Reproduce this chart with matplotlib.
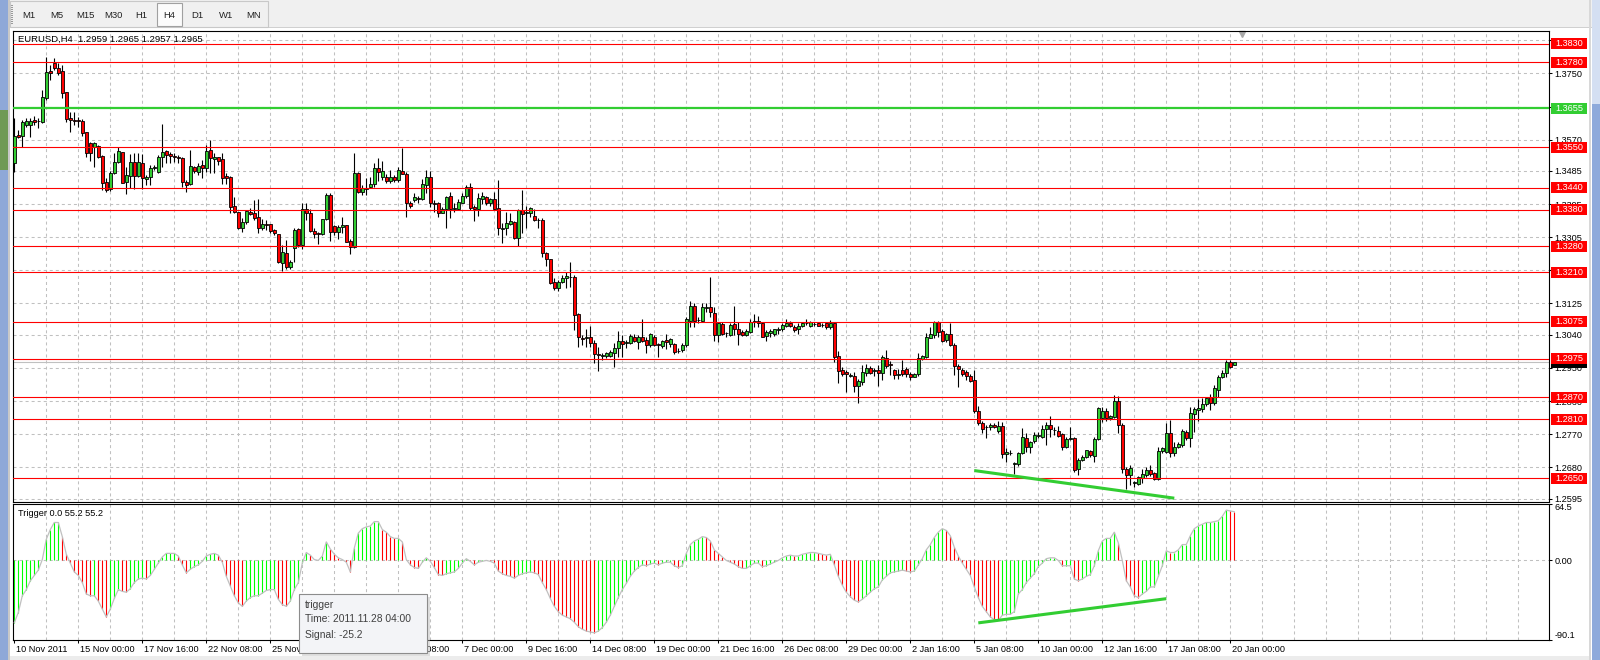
import matplotlib
matplotlib.use('Agg')
import matplotlib.pyplot as plt
import matplotlib.transforms as mtransforms
from matplotlib.patches import Rectangle
import numpy as np

plt.rcParams['font.family'] = ['Liberation Sans', 'DejaVu Sans']
plt.rcParams['font.size'] = 6.6

# EURUSD H4 candles, bar 0 = 10 Nov 2011 08:00 ... bar 305 = 20 Jan 2012
opens = [
    1.3506, 1.3582, 1.3580, 1.3610, 1.3610, 1.3624, 1.3621, 1.3619, 1.3683, 1.3757,
    1.3779, 1.3765, 1.3757, 1.3700, 1.3628, 1.3624, 1.3624, 1.3622, 1.3590, 1.3560,
    1.3551, 1.3553, 1.3526, 1.3455, 1.3435, 1.3480, 1.3509, 1.3536, 1.3456, 1.3472,
    1.3509, 1.3472, 1.3506, 1.3462, 1.3469, 1.3492, 1.3483, 1.3524, 1.3539, 1.3531,
    1.3526, 1.3522, 1.3519, 1.3456, 1.3450, 1.3495, 1.3483, 1.3501, 1.3492, 1.3541,
    1.3517, 1.3522, 1.3517, 1.3471, 1.3469, 1.3390, 1.3373, 1.3330, 1.3346, 1.3373,
    1.3370, 1.3359, 1.3330, 1.3340, 1.3340, 1.3324, 1.3313, 1.3236, 1.3261, 1.3225,
    1.3275, 1.3327, 1.3284, 1.3381, 1.3370, 1.3322, 1.3316, 1.3313, 1.3354, 1.3419,
    1.3335, 1.3320, 1.3334, 1.3338, 1.3296, 1.3278, 1.3479, 1.3429, 1.3436, 1.3441,
    1.3450, 1.3492, 1.3468, 1.3468, 1.3458, 1.3469, 1.3460, 1.3485, 1.3477, 1.3397,
    1.3406, 1.3411, 1.3408, 1.3447, 1.3468, 1.3397, 1.3397, 1.3371, 1.3382, 1.3417,
    1.3381, 1.3382, 1.3399, 1.3417, 1.3442, 1.3388, 1.3381, 1.3408, 1.3415, 1.3399,
    1.3408, 1.3385, 1.3327, 1.3329, 1.3341, 1.3347, 1.3304, 1.3379, 1.3371, 1.3371,
    1.3363, 1.3351, 1.3352, 1.3263, 1.3245, 1.3184, 1.3166, 1.3184, 1.3193, 1.3197,
    1.3196, 1.3096, 1.3030, 1.3030, 1.3033, 1.3018, 1.2988, 1.2983, 1.2982, 1.2982,
    1.2991, 1.3005, 1.3023, 1.3018, 1.3018, 1.3033, 1.3021, 1.3033, 1.3026, 1.3011,
    1.3035, 1.3014, 1.3010, 1.3026, 1.3014, 1.3016, 1.2996, 1.2999, 1.3012, 1.3078,
    1.3118, 1.3080, 1.3078, 1.3113, 1.3116, 1.3100, 1.3039, 1.3069, 1.3044, 1.3039,
    1.3069, 1.3057, 1.3048, 1.3039, 1.3048, 1.3075, 1.3078, 1.3072, 1.3037, 1.3044,
    1.3042, 1.3054, 1.3055, 1.3065, 1.3072, 1.3061, 1.3055, 1.3063, 1.3071, 1.3065,
    1.3069, 1.3071, 1.3067, 1.3071, 1.3060, 1.3071, 1.2982, 1.2944, 1.2939, 1.2929,
    1.2928, 1.2901, 1.2913, 1.2935, 1.2949, 1.2941, 1.2944, 1.2935, 1.2976, 1.2960,
    1.2944, 1.2931, 1.2944, 1.2946, 1.2933, 1.2926, 1.2933, 1.2973, 1.2980, 1.3032,
    1.3039, 1.3074, 1.3051, 1.3026, 1.3042, 1.3012, 1.2955, 1.2944, 1.2938, 1.2928,
    1.2917, 1.2834, 1.2801, 1.2789, 1.2789, 1.2795, 1.2779, 1.2792, 1.2715, 1.2720,
    1.2690, 1.2689, 1.2718, 1.2760, 1.2736, 1.2752, 1.2765, 1.2763, 1.2783, 1.2795,
    1.2780, 1.2779, 1.2770, 1.2736, 1.2758, 1.2759, 1.2674, 1.2701, 1.2707, 1.2725,
    1.2711, 1.2757, 1.2813, 1.2834, 1.2813, 1.2817, 1.2860, 1.2795, 1.2674, 1.2659,
    1.2638, 1.2634, 1.2650, 1.2659, 1.2672, 1.2665, 1.2647, 1.2725, 1.2722, 1.2774,
    1.2718, 1.2734, 1.2740, 1.2777, 1.2759, 1.2825, 1.2836, 1.2838, 1.2852, 1.2870,
    1.2855, 1.2890, 1.2924, 1.2937, 1.2967, 1.2959]

highs = [
    1.3630, 1.3596, 1.3624, 1.3628, 1.3628, 1.3634, 1.3628, 1.3705, 1.3796, 1.3773,
    1.3791, 1.3778, 1.3773, 1.3700, 1.3646, 1.3646, 1.3631, 1.3625, 1.3592, 1.3565,
    1.3563, 1.3556, 1.3528, 1.3465, 1.3484, 1.3533, 1.3551, 1.3537, 1.3497, 1.3531,
    1.3535, 1.3533, 1.3531, 1.3474, 1.3501, 1.3501, 1.3528, 1.3612, 1.3542, 1.3537,
    1.3535, 1.3528, 1.3522, 1.3460, 1.3542, 1.3499, 1.3506, 1.3515, 1.3556, 1.3569,
    1.3533, 1.3524, 1.3533, 1.3480, 1.3471, 1.3414, 1.3373, 1.3358, 1.3379, 1.3384,
    1.3406, 1.3410, 1.3354, 1.3352, 1.3340, 1.3327, 1.3313, 1.3284, 1.3297, 1.3243,
    1.3329, 1.3329, 1.3397, 1.3397, 1.3381, 1.3329, 1.3320, 1.3354, 1.3426, 1.3426,
    1.3338, 1.3338, 1.3361, 1.3338, 1.3301, 1.3533, 1.3483, 1.3447, 1.3465, 1.3469,
    1.3507, 1.3519, 1.3513, 1.3477, 1.3488, 1.3474, 1.3495, 1.3547, 1.3483, 1.3403,
    1.3424, 1.3417, 1.3462, 1.3488, 1.3485, 1.3406, 1.3401, 1.3388, 1.3417, 1.3428,
    1.3399, 1.3408, 1.3424, 1.3447, 1.3453, 1.3392, 1.3426, 1.3428, 1.3417, 1.3411,
    1.3429, 1.3460, 1.3343, 1.3374, 1.3370, 1.3349, 1.3381, 1.3433, 1.3390, 1.3388,
    1.3381, 1.3356, 1.3356, 1.3266, 1.3247, 1.3193, 1.3189, 1.3202, 1.3211, 1.3238,
    1.3202, 1.3098, 1.3039, 1.3055, 1.3064, 1.3026, 1.3007, 1.2991, 1.2994, 1.2999,
    1.3018, 1.3051, 1.3039, 1.3026, 1.3043, 1.3042, 1.3039, 1.3082, 1.3035, 1.3045,
    1.3039, 1.3017, 1.3027, 1.3042, 1.3030, 1.3018, 1.3003, 1.3017, 1.3089, 1.3132,
    1.3127, 1.3089, 1.3125, 1.3125, 1.3198, 1.3116, 1.3075, 1.3075, 1.3048, 1.3071,
    1.3118, 1.3075, 1.3053, 1.3055, 1.3082, 1.3096, 1.3091, 1.3075, 1.3053, 1.3055,
    1.3057, 1.3062, 1.3071, 1.3082, 1.3078, 1.3066, 1.3071, 1.3075, 1.3082, 1.3078,
    1.3075, 1.3074, 1.3072, 1.3072, 1.3080, 1.3072, 1.2996, 1.2953, 1.2944, 1.2935,
    1.2939, 1.2919, 1.2958, 1.2960, 1.2955, 1.2949, 1.2958, 1.2984, 1.2999, 1.2969,
    1.2948, 1.2946, 1.2971, 1.2952, 1.2939, 1.2937, 1.2990, 1.2985, 1.3044, 1.3060,
    1.3078, 1.3078, 1.3055, 1.3045, 1.3072, 1.3017, 1.2960, 1.2949, 1.2944, 1.2933,
    1.2944, 1.2847, 1.2807, 1.2795, 1.2799, 1.2799, 1.2807, 1.2804, 1.2731, 1.2727,
    1.2695, 1.2722, 1.2786, 1.2772, 1.2752, 1.2777, 1.2777, 1.2795, 1.2804, 1.2819,
    1.2790, 1.2792, 1.2774, 1.2763, 1.2790, 1.2763, 1.2704, 1.2713, 1.2728, 1.2728,
    1.2763, 1.2844, 1.2843, 1.2840, 1.2822, 1.2876, 1.2874, 1.2799, 1.2681, 1.2686,
    1.2643, 1.2656, 1.2674, 1.2681, 1.2686, 1.2668, 1.2736, 1.2736, 1.2799, 1.2808,
    1.2749, 1.2749, 1.2783, 1.2781, 1.2844, 1.2844, 1.2865, 1.2867, 1.2870, 1.2880,
    1.2903, 1.2930, 1.2944, 1.2971, 1.2971, 1.2965]

lows = [
    1.3483, 1.3574, 1.3551, 1.3605, 1.3577, 1.3610, 1.3601, 1.3615, 1.3678, 1.3732,
    1.3759, 1.3746, 1.3683, 1.3619, 1.3591, 1.3610, 1.3605, 1.3580, 1.3524, 1.3513,
    1.3497, 1.3519, 1.3433, 1.3429, 1.3431, 1.3478, 1.3506, 1.3451, 1.3422, 1.3438,
    1.3435, 1.3469, 1.3435, 1.3447, 1.3447, 1.3488, 1.3480, 1.3497, 1.3507, 1.3506,
    1.3510, 1.3506, 1.3442, 1.3429, 1.3447, 1.3480, 1.3474, 1.3467, 1.3483, 1.3480,
    1.3480, 1.3501, 1.3450, 1.3450, 1.3371, 1.3370, 1.3326, 1.3319, 1.3341, 1.3365,
    1.3352, 1.3316, 1.3325, 1.3325, 1.3317, 1.3311, 1.3234, 1.3213, 1.3220, 1.3220,
    1.3237, 1.3279, 1.3272, 1.3352, 1.3320, 1.3302, 1.3286, 1.3311, 1.3352, 1.3295,
    1.3311, 1.3299, 1.3316, 1.3293, 1.3259, 1.3275, 1.3424, 1.3420, 1.3420, 1.3438,
    1.3442, 1.3458, 1.3460, 1.3453, 1.3451, 1.3456, 1.3456, 1.3477, 1.3361, 1.3384,
    1.3401, 1.3397, 1.3406, 1.3424, 1.3388, 1.3374, 1.3360, 1.3370, 1.3329, 1.3356,
    1.3374, 1.3379, 1.3397, 1.3411, 1.3379, 1.3349, 1.3363, 1.3395, 1.3392, 1.3390,
    1.3379, 1.3311, 1.3288, 1.3311, 1.3338, 1.3299, 1.3281, 1.3316, 1.3329, 1.3359,
    1.3349, 1.3329, 1.3252, 1.3227, 1.3178, 1.3162, 1.3160, 1.3181, 1.3166, 1.3170,
    1.3053, 1.3007, 1.3012, 1.3007, 1.3007, 1.2963, 1.2942, 1.2971, 1.2976, 1.2979,
    1.2953, 1.2980, 1.2980, 1.3003, 1.3016, 1.3021, 1.3002, 1.3021, 1.2990, 1.3007,
    1.3009, 1.2980, 1.3003, 1.3000, 1.3007, 1.2987, 1.2991, 1.2994, 1.3007, 1.3060,
    1.3061, 1.3072, 1.3075, 1.3102, 1.3089, 1.3024, 1.3021, 1.3039, 1.3033, 1.3036,
    1.3039, 1.3012, 1.3036, 1.3036, 1.3045, 1.3061, 1.3060, 1.3033, 1.3023, 1.3035,
    1.3036, 1.3042, 1.3051, 1.3061, 1.3060, 1.3048, 1.3042, 1.3060, 1.3066, 1.3061,
    1.3064, 1.3064, 1.3060, 1.3057, 1.3055, 1.2966, 1.2910, 1.2928, 1.2885, 1.2924,
    1.2885, 1.2855, 1.2903, 1.2928, 1.2933, 1.2928, 1.2901, 1.2917, 1.2951, 1.2930,
    1.2919, 1.2919, 1.2928, 1.2924, 1.2917, 1.2924, 1.2928, 1.2971, 1.2976, 1.3030,
    1.3030, 1.3035, 1.3021, 1.3021, 1.3009, 1.2930, 1.2897, 1.2928, 1.2917, 1.2911,
    1.2828, 1.2795, 1.2774, 1.2759, 1.2781, 1.2786, 1.2774, 1.2704, 1.2695, 1.2713,
    1.2663, 1.2683, 1.2716, 1.2722, 1.2719, 1.2747, 1.2759, 1.2759, 1.2740, 1.2762,
    1.2768, 1.2762, 1.2727, 1.2731, 1.2754, 1.2668, 1.2659, 1.2698, 1.2704, 1.2707,
    1.2695, 1.2754, 1.2804, 1.2806, 1.2808, 1.2813, 1.2772, 1.2665, 1.2620, 1.2632,
    1.2627, 1.2632, 1.2638, 1.2653, 1.2656, 1.2645, 1.2645, 1.2718, 1.2718, 1.2709,
    1.2711, 1.2731, 1.2736, 1.2754, 1.2734, 1.2777, 1.2806, 1.2831, 1.2846, 1.2835,
    1.2849, 1.2872, 1.2922, 1.2924, 1.2951, 1.2957]

closes = [
    1.3580, 1.3578, 1.3617, 1.3622, 1.3622, 1.3619, 1.3621, 1.3687, 1.3753, 1.3750,
    1.3764, 1.3752, 1.3696, 1.3626, 1.3624, 1.3622, 1.3620, 1.3587, 1.3533, 1.3533,
    1.3560, 1.3524, 1.3453, 1.3433, 1.3480, 1.3509, 1.3539, 1.3453, 1.3473, 1.3509,
    1.3472, 1.3509, 1.3465, 1.3469, 1.3494, 1.3497, 1.3524, 1.3537, 1.3528, 1.3526,
    1.3524, 1.3520, 1.3456, 1.3447, 1.3499, 1.3486, 1.3499, 1.3492, 1.3540, 1.3519,
    1.3522, 1.3513, 1.3465, 1.3465, 1.3388, 1.3374, 1.3330, 1.3346, 1.3376, 1.3367,
    1.3357, 1.3330, 1.3340, 1.3337, 1.3322, 1.3316, 1.3237, 1.3264, 1.3225, 1.3237,
    1.3325, 1.3284, 1.3381, 1.3370, 1.3323, 1.3313, 1.3313, 1.3354, 1.3419, 1.3320,
    1.3320, 1.3334, 1.3338, 1.3293, 1.3278, 1.3479, 1.3427, 1.3438, 1.3439, 1.3450,
    1.3492, 1.3483, 1.3485, 1.3458, 1.3468, 1.3460, 1.3488, 1.3477, 1.3397, 1.3390,
    1.3413, 1.3410, 1.3450, 1.3469, 1.3399, 1.3395, 1.3371, 1.3381, 1.3415, 1.3381,
    1.3384, 1.3402, 1.3417, 1.3441, 1.3385, 1.3381, 1.3411, 1.3417, 1.3399, 1.3408,
    1.3382, 1.3329, 1.3329, 1.3344, 1.3349, 1.3304, 1.3379, 1.3368, 1.3373, 1.3384,
    1.3352, 1.3352, 1.3263, 1.3245, 1.3181, 1.3166, 1.3184, 1.3193, 1.3199, 1.3196,
    1.3093, 1.3033, 1.3028, 1.3033, 1.3018, 1.2988, 1.2986, 1.2985, 1.2990, 1.2994,
    1.3003, 1.3023, 1.3014, 1.3020, 1.3036, 1.3024, 1.3033, 1.3024, 1.3011, 1.3042,
    1.3012, 1.3013, 1.3023, 1.3021, 1.3028, 1.2994, 1.2997, 1.3012, 1.3082, 1.3118,
    1.3078, 1.3079, 1.3116, 1.3115, 1.3102, 1.3039, 1.3071, 1.3042, 1.3045, 1.3066,
    1.3055, 1.3042, 1.3039, 1.3051, 1.3075, 1.3078, 1.3071, 1.3035, 1.3048, 1.3051,
    1.3055, 1.3055, 1.3066, 1.3071, 1.3063, 1.3053, 1.3063, 1.3072, 1.3071, 1.3074,
    1.3070, 1.3064, 1.3067, 1.3060, 1.3072, 1.2980, 1.2942, 1.2933, 1.2933, 1.2930,
    1.2901, 1.2915, 1.2939, 1.2949, 1.2937, 1.2943, 1.2935, 1.2980, 1.2955, 1.2957,
    1.2930, 1.2933, 1.2933, 1.2933, 1.2924, 1.2933, 1.2976, 1.2982, 1.3035, 1.3041,
    1.3074, 1.3048, 1.3024, 1.3042, 1.3012, 1.2955, 1.2946, 1.2933, 1.2928, 1.2915,
    1.2834, 1.2799, 1.2783, 1.2789, 1.2795, 1.2789, 1.2792, 1.2715, 1.2722, 1.2719,
    1.2691, 1.2718, 1.2762, 1.2736, 1.2749, 1.2768, 1.2767, 1.2783, 1.2795, 1.2783,
    1.2781, 1.2765, 1.2736, 1.2758, 1.2759, 1.2672, 1.2701, 1.2708, 1.2727, 1.2713,
    1.2757, 1.2840, 1.2834, 1.2813, 1.2819, 1.2860, 1.2795, 1.2674, 1.2659, 1.2677,
    1.2639, 1.2653, 1.2662, 1.2672, 1.2662, 1.2647, 1.2725, 1.2731, 1.2774, 1.2720,
    1.2736, 1.2743, 1.2779, 1.2759, 1.2827, 1.2838, 1.2840, 1.2852, 1.2867, 1.2855,
    1.2894, 1.2926, 1.2937, 1.2967, 1.2953, 1.2965]

# "Trigger" oscillator, one value per bar
trigger = [
    -70.5, -59, -40, -33, -23, -17, -11, 1, 24, 35,
    43, 43, 27, 7, -3, -13, -17, -25, -38, -40,
    -40, -46, -55, -64, -55, -43, -33, -35, -36, -32,
    -25, -21, -20, -21, -17, -10, -3, 4, 8, 8,
    8, 5, -5, -14, -10, -7, -5, -1, 5, 7,
    8, 6, -2, -18, -29, -40, -48, -52, -46, -42,
    -40, -40, -37, -34, -33, -33, -44, -50, -52, -46,
    -33, -25.2, -3, 9, 6, 1, 0, 5, 21, 13,
    7, 3, 1, -2, -13, 14, 31, 36, 38, 39,
    44, 44, 35, 32, 27, 25, 25, 21, 1, -5,
    -8, -9, -2, 3, -1, -8, -16, -17, -15, -14,
    -13, -9, -3, 2, -1, -5, -2, -1, 0, -1,
    -3, -12, -15, -17, -18, -20, -17, -15, -14, -13,
    -14, -16, -25, -33, -43, -52, -58, -62, -64, -66,
    -70, -75, -78, -80, -81, -82, -80, -76, -70, -62,
    -52, -42, -33, -26, -18, -12, -8, -5, -6, -4,
    -3, -5, -3, -2, -2, -6, -8, -6, 8, 18,
    22, 24, 27, 26, 22, 12, 8, 4, 0, -2,
    -4, -7, -9, -9, -6, -3, -3, -7, -6, -4,
    -2, 0, 3, 5, 6, 5, 5, 7, 8, 9,
    9, 8, 7, 6, 7, -5, -18, -28, -36, -41,
    -45, -47, -44, -40, -36, -32, -30, -22, -18, -14,
    -13, -12, -11, -12, -13, -12, -5, 2, 12, 18,
    26, 32, 36, 34, 28, 15, 5, -3, -10, -17,
    -30, -42, -52, -58, -64, -67, -68, -62, -61, -61,
    -58, -38, -33, -25, -20, -15, -7, -3, 2, 3,
    3, 0, -6, -6, -6, -21, -23, -21, -18, -16,
    -6, 11, 22, 25, 25, 32, 20, 0, -23, -30,
    -40, -42, -38, -35, -30, -30, -18, -6, 11, 9,
    9, 12, 18, 18, 28, 36, 39, 41, 43, 43,
    44, 45, 50, 57, 56, 55.2]

# horizontal levels drawn on the chart
levels_red = [1.3830, 1.3780, 1.3550, 1.3440, 1.3380, 1.3280, 1.3210,
              1.3075, 1.2975, 1.2870, 1.2810, 1.2650]
level_green = 1.3655
bid = 1.2965
price_ticks = [1.3840, 1.3750, 1.3660, 1.3570, 1.3485, 1.3395, 1.3305, 1.3215,
               1.3125, 1.3040, 1.2950, 1.2860, 1.2770, 1.2680, 1.2595]

# divergence trend lines (bar index, value)
trend_price_x = [240, 290]
trend_price_y = [1.2671, 1.2596]
trend_osc_x = [241, 288]
trend_osc_y = [-70.7, -43.3]

time_labels = ['10 Nov 2011', '15 Nov 00:00', '17 Nov 16:00', '22 Nov 08:00',
               '25 Nov 00:00', '29 Nov 16:00', '2 Dec 08:00', '7 Dec 00:00',
               '9 Dec 16:00', '14 Dec 08:00', '19 Dec 00:00', '21 Dec 16:00',
               '26 Dec 08:00', '29 Dec 00:00', '2 Jan 16:00', '5 Jan 08:00',
               '10 Jan 00:00', '12 Jan 16:00', '17 Jan 08:00', '20 Jan 00:00']
time_label_bars = list(range(0, 305, 16))

W, H = 1600, 660
def fx(px):
    return px / W
def fy(py):
    return 1 - py / H

fig = plt.figure(figsize=(16, 6.6), dpi=100)
fig.patch.set_facecolor('white')

ax = fig.add_axes([fx(13), fy(501.5), 1536 / W, (501.5 - 31) / H])
ax2 = fig.add_axes([fx(13), fy(640), 1536 / W, (640 - 503.5) / H])

idx = np.arange(len(closes))
o = np.array(opens)
hi = np.array(highs)
lo = np.array(lows)
c = np.array(closes)

grid_kw = dict(color='#c0c0c0', lw=0.75, linestyle=(0, (2.9, 2.9)), zorder=0)

# ---- main price window
ax.set_xlim(-0.325, 383.675)
ax.set_ylim(1.258696, 1.386532)
for k in range(8, 384, 8):
    ax.axvline(k, **grid_kw)
    ax2.axvline(k, **grid_kw)
for p in price_ticks:
    ax.axhline(p, **grid_kw)

body_col = np.where(c >= o, '#32cd32', '#ff0000')
ax.vlines(idx, lo, hi, color='black', lw=0.8, zorder=2)
ax.bar(idx, np.maximum(np.abs(c - o), 0.00003), bottom=np.minimum(o, c),
       width=0.72, color=body_col, edgecolor='black', linewidth=0.6, zorder=3)

ax.axhline(bid, color='#c0c0c0', lw=0.8, zorder=1)
for lv in levels_red:
    ax.axhline(lv, color='#ff0000', lw=0.8, zorder=4)
ax.axhline(level_green, color='#32cd32', lw=1.6, zorder=4)
ax.plot(trend_price_x, trend_price_y, color='#32cd32', lw=2.2,
        solid_capstyle='butt', zorder=5)

ax.yaxis.tick_right()
ax.set_yticks(price_ticks)
ax.set_yticklabels([f'{p:.4f}' for p in price_ticks])
ax.tick_params(axis='y', direction='out', length=2.2, width=0.75, pad=1.6,
               labelsize=6.6, colors='black')
ax.tick_params(axis='x', length=0, labelbottom=False)
for s in ax.spines.values():
    s.set_color('black')
    s.set_linewidth(0.8)

# price labels on the right axis
box_tr = mtransforms.blended_transform_factory(ax.transAxes, ax.transData)
bx, bw, bh = (1551 - 13) / 1536, 36 / 1536, 11 / 3680.5
def level_box(val, col, z, label=True):
    ax.add_patch(Rectangle((bx, val - bh / 2), bw, bh, transform=box_tr,
                           facecolor=col, edgecolor='none', clip_on=False, zorder=z))
    if label:
        ax.text(bx + bw / 2, val, f'{val:.4f}', transform=box_tr, color='white',
                ha='center', va='center', fontsize=6.6, zorder=z + 0.5, clip_on=False)

# bid marker sits behind the 1.2975 box, its text is not visible
level_box(bid, 'black', 6, label=False)
for lv in levels_red:
    level_box(lv, '#ff0000', 7)
level_box(level_green, '#32cd32', 7)

ax.text(5 / 1536, (501.5 - 39.5) / 470.5, 'EURUSD,H4  1.2959 1.2965 1.2957 1.2965',
        transform=ax.transAxes, ha='left', va='center', fontsize=6.8, zorder=8)
ax.plot([306.9], [0.994], marker='v', ms=4.5, color='#a8a8a8', clip_on=False,
        transform=mtransforms.blended_transform_factory(ax.transData, ax.transAxes))

# ---- Trigger window
ax2.set_xlim(-0.325, 383.675)
ax2.set_ylim(-90.1, 64.5)
ax2.axhline(0, **grid_kw)
tr = np.array(trigger)
rising = np.r_[True, tr[1:] >= tr[:-1]]
ax2.vlines(idx, 0, tr, colors=np.where(rising, '#00ff00', '#ff0000'), lw=0.8, zorder=2)
ax2.plot(idx, tr, color='#c0c0c0', lw=0.9, zorder=3)
ax2.plot(trend_osc_x, trend_osc_y, color='#32cd32', lw=2.2,
         solid_capstyle='butt', zorder=5)

ax2.yaxis.tick_right()
ax2.set_yticks([64.5, 0, -90.1])
ax2.set_yticklabels(['64.5', '0.00', '-90.1'])
ylbls = ax2.get_yticklabels()
ylbls[0].set_va('top')
ylbls[2].set_va('bottom')
ax2.tick_params(axis='y', direction='out', length=2.2, width=0.75, pad=1.6,
                labelsize=6.6)
ax2.set_xticks(time_label_bars)
ax2.set_xticklabels(time_labels, ha='left')
ax2.tick_params(axis='x', direction='out', length=2.2, width=0.75, pad=1.6,
                labelsize=6.6)
shift = mtransforms.ScaledTranslation(1.5 / 100, 0, fig.dpi_scale_trans)
for lbl in ax2.get_xticklabels():
    lbl.set_transform(lbl.get_transform() + shift)
for s in ax2.spines.values():
    s.set_color('black')
    s.set_linewidth(0.8)
ax2.text(5 / 1536, (640 - 514) / 136.5, 'Trigger 0.0 55.2 55.2',
         transform=ax2.transAxes, ha='left', va='center', fontsize=6.6, zorder=8)

# ---- terminal chrome: toolbar, window edges, scrollbar
fig.patches.append(Rectangle((0, fy(28)), 1, 28 / H, transform=fig.transFigure,
                             facecolor='#f0f0f0', edgecolor='none'))
fig.patches.append(Rectangle((fx(268), fy(28)), 1, 1 / H, transform=fig.transFigure,
                             facecolor='#d0d0d0', edgecolor='none'))
fig.patches.append(Rectangle((fx(10), fy(27)), fx(258), 26 / H, transform=fig.transFigure,
                             facecolor='none', edgecolor='#c8c8c8', lw=0.8))
fig.patches.append(Rectangle((fx(157), fy(25.5)), fx(25), 22.5 / H,
                             transform=fig.transFigure, facecolor='#fbfbfb',
                             edgecolor='#a0a0a0', lw=0.8))
for name, px in zip(['M1', 'M5', 'M15', 'M30', 'H1', 'H4', 'D1', 'W1', 'MN'],
                    [29, 57.3, 85.3, 113.3, 141.7, 169.3, 197.3, 226, 253.3]):
    fig.text(fx(px), fy(15.5), name, ha='center', va='center', fontsize=6.8,
             color='#222222')
for py in range(5, 25, 2):
    fig.patches.append(Rectangle((fx(11), fy(py + 1)), fx(1.5), 1 / H,
                                 transform=fig.transFigure, facecolor='#9a9a9a',
                                 edgecolor='none'))

fig.patches.append(Rectangle((0, 0), fx(8), 1, transform=fig.transFigure,
                             facecolor='#8ea8d8', edgecolor='none'))
fig.patches.append(Rectangle((0, fy(170)), fx(8), 60 / H, transform=fig.transFigure,
                             facecolor='#6f9a55', edgecolor='none'))
fig.patches.append(Rectangle((fx(8), 0), fx(2), 1, transform=fig.transFigure,
                             facecolor='#c8c8c8', edgecolor='none'))

fig.patches.append(Rectangle((fx(1589), 0), fx(2), fy(0), transform=fig.transFigure,
                             facecolor='#d8d8d8', edgecolor='none'))
fig.patches.append(Rectangle((fx(1592), 0), fx(8), 1, transform=fig.transFigure,
                             facecolor='#8eaadb', edgecolor='none'))
fig.patches.append(Rectangle((fx(1592), fy(104)), fx(8), 104 / H,
                             transform=fig.transFigure, facecolor='#d4dff2',
                             edgecolor='none'))
fig.patches.append(Rectangle((fx(10), 0), fx(1579), 4 / H, transform=fig.transFigure,
                             facecolor='#ececec', edgecolor='none'))

# ---- data window tooltip
fig.patches.append(Rectangle((fx(302), fy(656)), fx(128), 59 / H,
                             transform=fig.transFigure, facecolor='#b8b8b8',
                             alpha=0.45, edgecolor='none', zorder=5))
fig.patches.append(Rectangle((fx(299), fy(653)), fx(128), 59 / H,
                             transform=fig.transFigure, facecolor='#f3f4f7',
                             edgecolor='#8c8c8c', lw=0.8, zorder=6))
for txt, py in [('trigger', 605), ('Time: 2011.11.28 04:00', 619.5),
                ('Signal: -25.2', 634.5)]:
    fig.text(fx(305), fy(py), txt, ha='left', va='center', fontsize=7.4,
             color='#404040', zorder=7)

fig.savefig('out.png', dpi=100, facecolor='white')
